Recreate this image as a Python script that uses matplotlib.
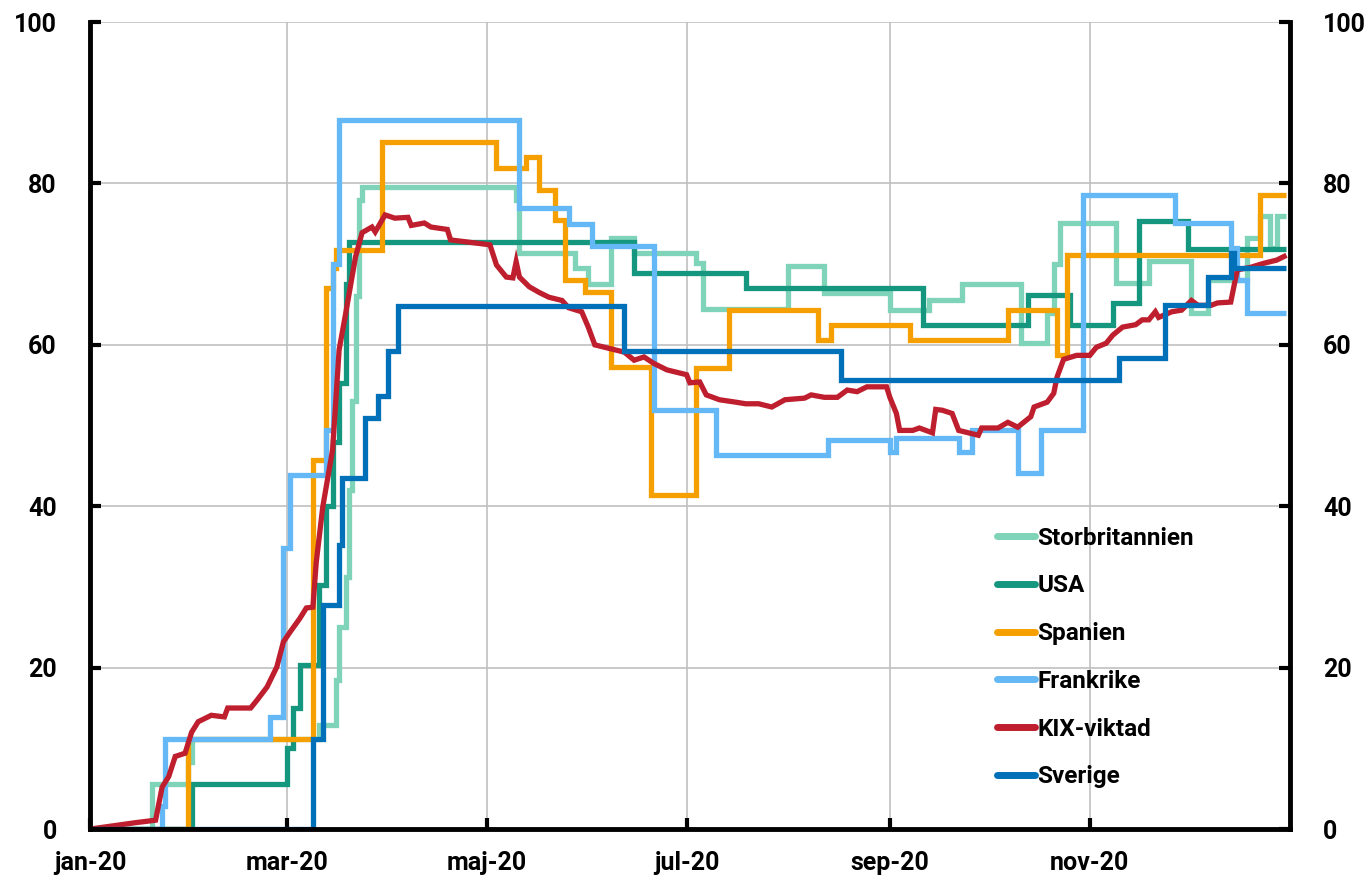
import pandas as pd
import matplotlib
matplotlib.use('Agg')
import matplotlib.pyplot as plt
from matplotlib import font_manager

FONT = ['Roboto', 'DejaVu Sans']
plt.rcParams['font.family'] = FONT
plt.rcParams['font.weight'] = 'bold'

# Stringency index per country: dates where the value changes, and the new value
gb_dates = ['2020-01-01', '2020-01-20', '2020-01-31', '2020-02-01', '2020-03-11', '2020-03-16',
            '2020-03-17', '2020-03-19', '2020-03-20', '2020-03-21', '2020-03-22', '2020-03-23',
            '2020-03-24', '2020-05-10', '2020-05-11', '2020-05-28', '2020-06-01', '2020-06-08',
            '2020-06-15', '2020-07-04', '2020-07-06', '2020-08-01', '2020-08-12', '2020-09-01',
            '2020-09-13', '2020-09-23', '2020-10-11', '2020-10-19', '2020-10-21', '2020-10-23',
            '2020-11-09', '2020-11-19', '2020-12-02', '2020-12-07', '2020-12-19', '2020-12-23',
            '2020-12-26', '2020-12-28', '2020-12-31']
gb_vals = [0, 5.6, 8.3, 11.1, 12.9, 18.5, 25, 31.2, 42, 53, 66, 78, 79.6, 78, 71.4, 69.5,
           67.6, 73.2, 71.4, 70.1, 64.4, 69.8, 66.4, 64.3, 65.5, 67.5, 60.2, 64, 70, 75.1,
           67.7, 70.4, 63.9, 68.0, 73.2, 76.0, 72, 76, 76]

us_dates = ['2020-01-01', '2020-02-01', '2020-03-01', '2020-03-03', '2020-03-05', '2020-03-11',
            '2020-03-13', '2020-03-15', '2020-03-17', '2020-03-19', '2020-03-20', '2020-06-15',
            '2020-07-19', '2020-09-11', '2020-10-13', '2020-10-26', '2020-11-08', '2020-11-16',
            '2020-12-01', '2020-12-31']
us_vals = [0, 5.6, 10, 15, 20.3, 30.3, 40, 48, 55.3, 67.6, 72.7, 68.9, 67.1, 62.5, 66.2,
           62.5, 65.2, 75.3, 71.9, 71.9]

es_dates = ['2020-01-01', '2020-01-31', '2020-03-09', '2020-03-13', '2020-03-15', '2020-03-16',
            '2020-03-30', '2020-05-04', '2020-05-13', '2020-05-17', '2020-05-22', '2020-05-25',
            '2020-05-31', '2020-06-08', '2020-06-20', '2020-07-04', '2020-07-14', '2020-08-10',
            '2020-08-14', '2020-09-07', '2020-10-07', '2020-10-22', '2020-10-25', '2020-12-23',
            '2020-12-31']
es_vals = [0, 11.1, 45.7, 67, 69.5, 71.7, 85.1, 81.9, 83.3, 79.2, 75.5, 68, 66.5, 57.3,
           41.4, 57.1, 64.3, 60.6, 62.5, 60.6, 64.3, 58.7, 71.1, 78.6, 78.6]

fr_dates = ['2020-01-01', '2020-01-23', '2020-01-24', '2020-02-25', '2020-02-29', '2020-03-02',
            '2020-03-13', '2020-03-15', '2020-03-17', '2020-05-11', '2020-05-26', '2020-06-02',
            '2020-06-21', '2020-07-10', '2020-08-13', '2020-09-01', '2020-09-03', '2020-09-22',
            '2020-09-26', '2020-10-10', '2020-10-17', '2020-10-30', '2020-11-27', '2020-12-14',
            '2020-12-16', '2020-12-19', '2020-12-31']
fr_vals = [0, 2.8, 11.1, 13.9, 34.8, 43.9, 49.4, 70, 87.9, 77, 75, 72.2, 51.9, 46.3, 48.2,
           46.7, 48.5, 46.7, 49.4, 44.1, 49.4, 78.6, 75.1, 72, 68, 63.9, 63.9]

kix_dates = ['2020-01-01', '2020-01-08', '2020-01-15', '2020-01-21', '2020-01-23', '2020-01-25',
             '2020-01-27', '2020-01-30', '2020-02-01', '2020-02-03', '2020-02-07', '2020-02-11',
             '2020-02-12', '2020-02-19', '2020-02-21', '2020-02-24', '2020-02-27', '2020-02-29',
             '2020-03-02', '2020-03-05', '2020-03-07', '2020-03-09', '2020-03-10', '2020-03-12',
             '2020-03-15', '2020-03-17', '2020-03-19', '2020-03-22', '2020-03-24', '2020-03-27',
             '2020-03-28', '2020-03-31', '2020-04-03', '2020-04-07', '2020-04-08', '2020-04-12',
             '2020-04-14', '2020-04-19', '2020-04-20', '2020-04-26', '2020-05-02', '2020-05-04',
             '2020-05-07', '2020-05-09', '2020-05-10', '2020-05-11', '2020-05-14', '2020-05-17',
             '2020-05-20', '2020-05-24', '2020-05-26', '2020-05-30', '2020-06-01', '2020-06-03',
             '2020-06-07', '2020-06-12', '2020-06-15', '2020-06-18', '2020-06-21', '2020-06-25',
             '2020-07-01', '2020-07-02', '2020-07-05', '2020-07-07', '2020-07-11', '2020-07-16',
             '2020-07-19', '2020-07-23', '2020-07-27', '2020-07-31', '2020-08-06', '2020-08-08',
             '2020-08-12', '2020-08-16', '2020-08-19', '2020-08-22', '2020-08-25', '2020-08-31',
             '2020-09-01', '2020-09-03', '2020-09-04', '2020-09-08', '2020-09-10', '2020-09-14',
             '2020-09-15', '2020-09-17', '2020-09-20', '2020-09-22', '2020-09-28', '2020-09-29',
             '2020-10-04', '2020-10-07', '2020-10-10', '2020-10-14', '2020-10-15', '2020-10-19',
             '2020-10-21', '2020-10-22', '2020-10-24', '2020-10-28', '2020-11-01', '2020-11-03',
             '2020-11-06', '2020-11-08', '2020-11-11', '2020-11-15', '2020-11-17', '2020-11-19',
             '2020-11-21', '2020-11-22', '2020-11-26', '2020-11-29', '2020-12-02', '2020-12-04',
             '2020-12-08', '2020-12-10', '2020-12-14', '2020-12-16', '2020-12-20', '2020-12-24',
             '2020-12-28', '2020-12-31']
kix_vals = [0, 0.4, 0.8, 1.1, 5.2, 6.5, 9.0, 9.4, 12.0, 13.3, 14.1, 13.9, 15.0, 15.0, 16.0,
            17.6, 20.1, 23.2, 24.4, 26.1, 27.4, 27.5, 33, 39.9, 47, 59.4, 63.9, 70.9, 73.9,
            74.6, 74.0, 76.1, 75.7, 75.8, 74.8, 75.1, 74.6, 74.3, 73.0, 72.7, 72.4, 69.9, 68.4,
            68.3, 70.3, 68.4, 67.2, 66.5, 65.9, 65.5, 64.6, 64.1, 62.2, 60.0, 59.6, 59.1, 58.1,
            58.5, 57.7, 56.9, 56.3, 55.3, 55.4, 53.8, 53.2, 52.9, 52.7, 52.7, 52.3, 53.2, 53.4,
            53.8, 53.5, 53.5, 54.4, 54.2, 54.8, 54.8, 53.5, 51.5, 49.4, 49.4, 49.7, 49.1, 52.0,
            51.9, 51.5, 49.4, 48.8, 49.7, 49.7, 50.4, 49.8, 51.1, 52.3, 52.9, 54.0, 56.0, 58.2,
            58.7, 58.7, 59.7, 60.2, 61.2, 62.2, 62.5, 63.1, 63.1, 64.1, 63.4, 64.1, 64.3, 65.5,
            64.9, 64.9, 65.2, 65.3, 69.3, 69.6, 70.1, 70.5, 71.1]

se_dates = ['2020-01-01', '2020-03-09', '2020-03-12', '2020-03-17', '2020-03-18', '2020-03-25',
            '2020-03-29', '2020-04-01', '2020-04-04', '2020-06-12', '2020-08-17', '2020-11-10',
            '2020-11-24', '2020-12-07', '2020-12-14', '2020-12-15', '2020-12-31']
se_vals = [0, 11.1, 27.8, 35.2, 43.5, 50.9, 53.7, 59.3, 64.8, 59.3, 55.6, 58.4, 64.9, 68.4,
           71.4, 69.5, 69.5]

tick_dates = ['2020-01-01', '2020-03-01', '2020-05-01', '2020-07-01', '2020-09-01', '2020-11-01']
tick_labels = ['jan-20', 'mar-20', 'maj-20', 'jul-20', 'sep-20', 'nov-20']

series = [
    ('Storbritannien', gb_dates, gb_vals, '#7fd3b8', 'steps-post'),
    ('USA', us_dates, us_vals, '#15967e', 'steps-post'),
    ('Spanien', es_dates, es_vals, '#f5a000', 'steps-post'),
    ('Frankrike', fr_dates, fr_vals, '#63b8f5', 'steps-post'),
    ('KIX-viktad', kix_dates, kix_vals, '#be1e2d', 'default'),
    ('Sverige', se_dates, se_vals, '#0070b8', 'steps-post'),
]

fig = plt.figure(figsize=(13.68, 8.82), dpi=100)
ax = fig.add_axes([0.0658, 0.060, 0.877, 0.915])

for name, d, v, col, ds in series:
    ax.plot(pd.to_datetime(d), v, color=col, lw=3.8, drawstyle=ds, label=name,
            solid_joinstyle='miter', solid_capstyle='butt')

ax.set_xlim(pd.Timestamp('2020-01-01'), pd.Timestamp('2021-01-01'))
ax.set_ylim(0, 100)
ax.set_yticks([0, 20, 40, 60, 80, 100])
ax.set_xticks(pd.to_datetime(tick_dates))
ax.set_xticklabels(tick_labels)

ax.grid(True, color='#c0c0c0', lw=1.2)
ax.set_axisbelow(True)

for s in ['left', 'right', 'bottom']:
    ax.spines[s].set_linewidth(3.5)
    ax.spines[s].set_color('black')
ax.spines['top'].set_visible(False)

ax.tick_params(axis='y', direction='in', length=8, width=3, labelsize=18,
               left=True, right=True, labelleft=True, labelright=True, pad=24)
ax.tick_params(axis='x', direction='in', length=8, width=3, labelsize=18, pad=16)

bold = font_manager.FontProperties(family=FONT, weight='bold', size=18)
for t in ax.xaxis.get_major_ticks() + ax.yaxis.get_major_ticks():
    t.label1.set_fontproperties(bold)
    t.label2.set_fontproperties(bold)

leg = ax.legend(loc='upper left', bbox_to_anchor=(0.738, 0.402), frameon=False,
                prop=font_manager.FontProperties(family=FONT, weight='bold', size=17.5),
                handlelength=1.55, handletextpad=0.1, labelspacing=1.02)
for line in leg.get_lines():
    line.set_linewidth(5)
    line.set_solid_capstyle('round')
    line.set_drawstyle('default')

fig.savefig('out.png', dpi=100)
